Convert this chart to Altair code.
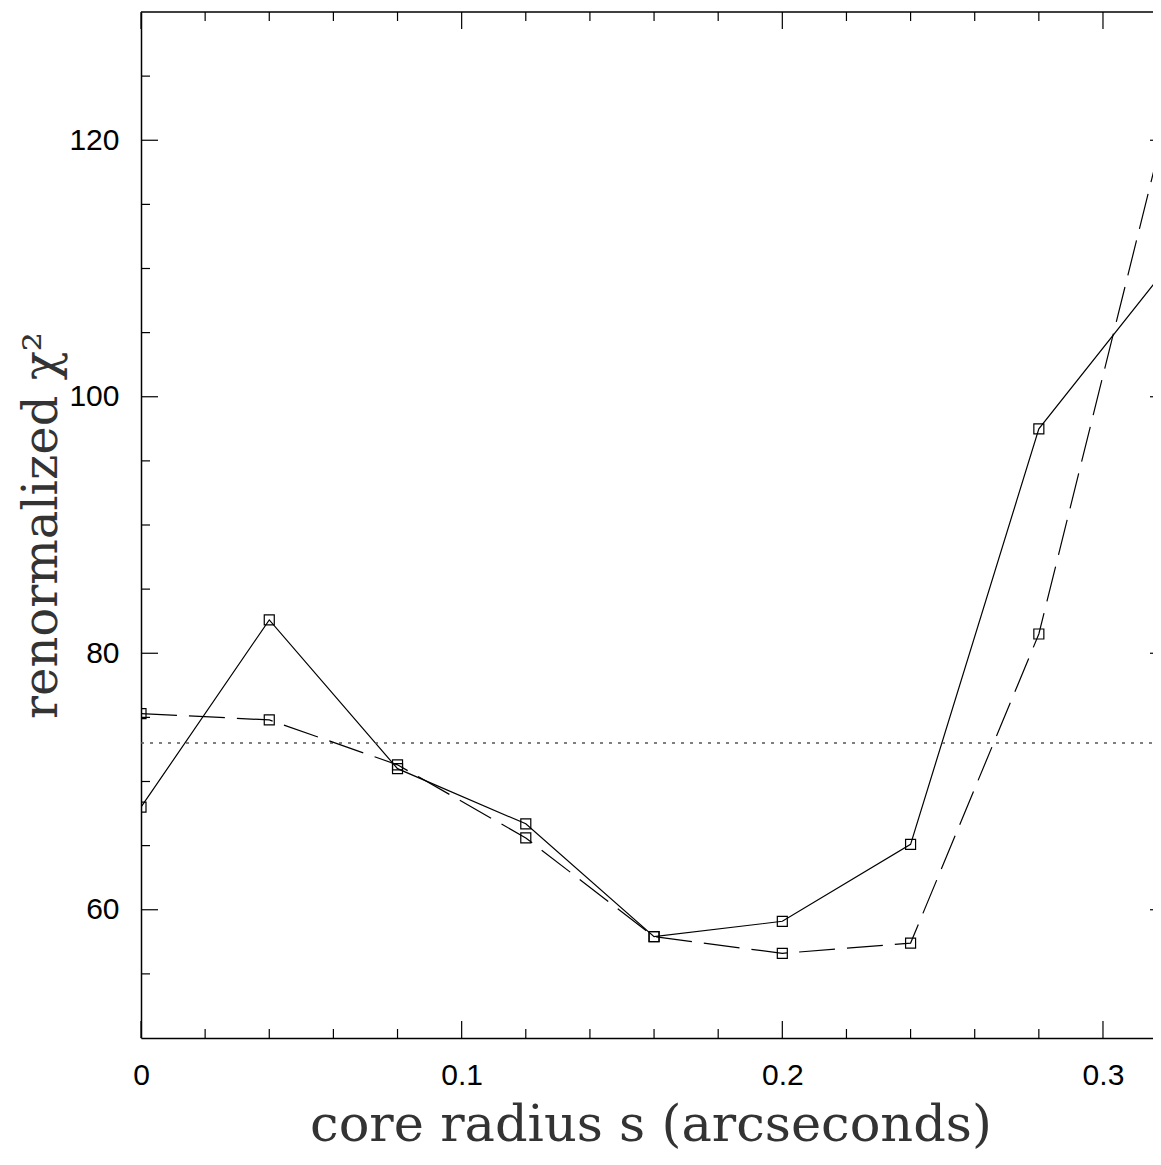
import altair as alt
import pandas as pd

# ---- data ----
core_radius = [0.0, 0.04, 0.08, 0.12, 0.16, 0.20, 0.24, 0.28, 0.32]
chi2_solid = [68.0, 82.6, 71.0, 66.7, 57.9, 59.1, 65.1, 97.5, 110.1]
chi2_dashed = [75.3, 74.8, 71.3, 65.6, 57.9, 56.6, 57.4, 81.5, 121.8]
reference_level = [73.0]

x_major_ticks = [0.0, 0.1, 0.2, 0.3]
x_minor_ticks = [0.02, 0.04, 0.06, 0.08, 0.12, 0.14, 0.16, 0.18, 0.22, 0.24, 0.26, 0.28]
y_major_ticks = [60, 80, 100, 120]
y_minor_ticks = [55, 65, 70, 75, 85, 90, 95, 105, 110, 115, 125]

W, H = 1012, 1026
X_DOMAIN = [0.0, 0.3156]
Y_DOMAIN = [50, 130]
MAJOR, MINOR = 17, 9

xs = alt.Scale(domain=X_DOMAIN, nice=False, zero=False)
ys = alt.Scale(domain=Y_DOMAIN, nice=False, zero=False)

solid_df = pd.DataFrame({"s": core_radius, "chi2": chi2_solid})
dashed_df = pd.DataFrame({"s": core_radius, "chi2": chi2_dashed})

TITLE_FONT = "DejaVu Serif"
LABEL_FONT = "Liberation Sans"

x_axis = alt.Axis(
    values=x_major_ticks, format="~g", title="core radius s (arcseconds)",
    ticks=False, tickSize=0, grid=False, domain=True, domainColor="black", domainWidth=1.5,
    labelFont=LABEL_FONT, labelFontSize=30, labelColor="black", labelPadding=22, labelFlush=False,
    titleFont=TITLE_FONT, titleFontSize=51, titleFontWeight="normal", titleColor="#333",
    titleBaseline="alphabetic", titleY=102, titleX=1019 / 2, titleAlign="center",
)
y_axis = alt.Axis(
    values=y_major_ticks, format="d", title="renormalized χ²",
    ticks=False, tickSize=0, grid=False, domain=True, domainColor="black", domainWidth=1.5,
    labelFont=LABEL_FONT, labelFontSize=30, labelColor="black", labelPadding=22, labelFlush=False,
    titleFont=TITLE_FONT, titleFontSize=48, titleFontWeight="normal", titleColor="#333",
    titleBaseline="alphabetic", titleAngle=270, titleX=-85, titleY=H / 2, titleAlign="center",
)


def X(field):
    return alt.X(field, scale=xs, axis=x_axis)


def Y(field):
    return alt.Y(field, scale=ys, axis=y_axis)


solid_line = alt.Chart(solid_df).mark_line(color="black", strokeWidth=1.2, clip=True).encode(
    x=X("s:Q"), y=Y("chi2:Q"),
)
solid_pts = alt.Chart(solid_df).mark_point(
    shape="square", size=100, filled=False, color="black", strokeWidth=1.2, opacity=1, clip=True
).encode(x=X("s:Q"), y=Y("chi2:Q"))

dashed_line = alt.Chart(dashed_df).mark_line(
    color="black", strokeWidth=1.2, strokeDash=[36, 12], clip=True
).encode(x=X("s:Q"), y=Y("chi2:Q"))
dashed_pts = alt.Chart(dashed_df).mark_point(
    shape="square", size=100, filled=False, color="black", strokeWidth=1.2, opacity=1, clip=True
).encode(x=X("s:Q"), y=Y("chi2:Q"))

ref_rule = alt.Chart(pd.DataFrame({"chi2": reference_level})).mark_rule(
    color="#555", strokeWidth=1.5, strokeDash=[3, 6]
).encode(y=Y("chi2:Q"), x=alt.value(0), x2=alt.value(W))

# frame top line
top_line = alt.Chart(pd.DataFrame({"chi2": [Y_DOMAIN[1]]})).mark_rule(
    color="black", strokeWidth=1.5
).encode(y=Y("chi2:Q"), x=alt.value(0), x2=alt.value(W))


def xticks(vals, length, bottom):
    df = pd.DataFrame({"s": vals})
    if bottom:
        yy, yy2 = alt.value(H), alt.value(H - length)
    else:
        yy, yy2 = alt.value(0), alt.value(length)
    return alt.Chart(df).mark_rule(color="black", strokeWidth=1.2).encode(
        x=X("s:Q"), y=yy, y2=yy2
    )


def yticks(vals, length, right):
    df = pd.DataFrame({"chi2": vals})
    if right:
        xx, xx2 = alt.value(W + 14), alt.value(W + 14 - length)
    else:
        xx, xx2 = alt.value(0), alt.value(length)
    return alt.Chart(df).mark_rule(color="black", strokeWidth=1.2, clip=True).encode(
        y=Y("chi2:Q"), x=xx, x2=xx2
    )


tick_layers = [
    xticks(x_major_ticks, MAJOR, True), xticks(x_minor_ticks, MINOR, True),
    xticks(x_major_ticks, MAJOR, False), xticks(x_minor_ticks, MINOR, False),
    yticks(y_major_ticks, MAJOR, False), yticks(y_minor_ticks, MINOR, False),
    yticks(y_major_ticks, MAJOR, True), yticks(y_minor_ticks, MINOR, True),
]

chart = alt.layer(
    solid_line, ref_rule, top_line, *tick_layers, dashed_line, solid_pts, dashed_pts
).properties(
    width=W, height=H,
    autosize=alt.AutoSizeParams(type="none"),
    padding={"left": 133, "top": 4, "right": 0, "bottom": 114},
    background="white",
).configure_view(stroke=None)

chart.save("out.html", embed_options={"renderer": "svg", "actions": False})
